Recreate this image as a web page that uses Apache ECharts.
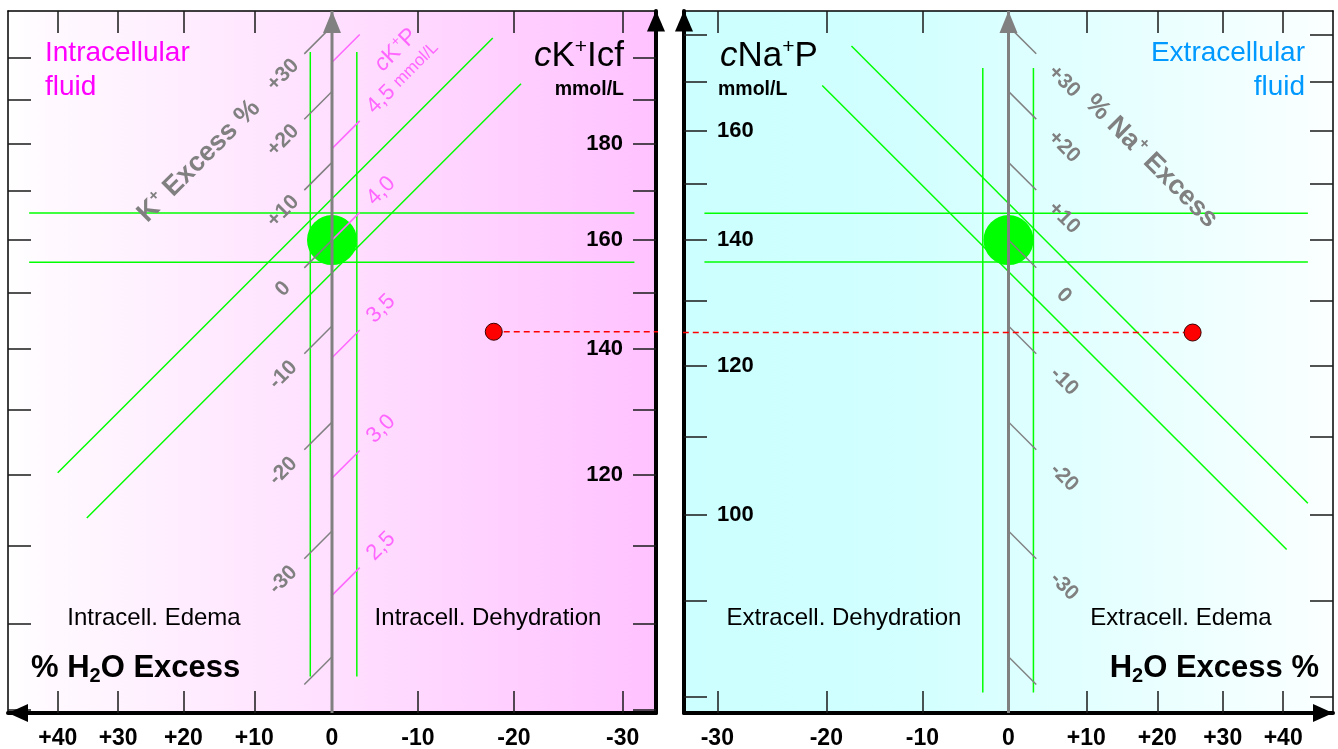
<!DOCTYPE html>
<html>
<head>
<meta charset="utf-8">
<title>cK+ Icf / cNa+ P nomogram</title>
<script src="https://cdn.jsdelivr.net/npm/echarts@6/dist/echarts.min.js"></script>
<style>
  html, body { margin: 0; padding: 0; background: #fff; }
  #chart { width: 1338px; height: 749px; }
</style>
</head>
<body>
<div id="chart"></div>
<script>
// H2O excess (%) ticks, both panels
const h2oTicks = [-30, -20, -10, 0, 10, 20, 30, 40]
// left panel: cK+ Icf (mmol/L)
const kIcfTicks = [90, 100, 110, 120, 130, 140, 150, 160, 170, 180, 190, 200]
const kIcfLabels = [120, 140, 160, 180]
const kIcfRange = [89.6, 211.9]
const kRef = 160
// right panel: cNa+ P (mmol/L)
const naTicks = [80, 90, 100, 110, 120, 130, 140, 150, 160, 170, 180]
const naLabels = [100, 120, 140, 160]
const naRange = [78.4, 185.4]
const naRef = 140
// H2O axis half range, as ln(1 + excess)
const xHalf = 0.3975

// K+ / Na+ excess (%) scale on the 0-line
const excessTicks = [30, 20, 10, 0, -10, -20, -30, -40]
const excessLabels = ['+30', '+20', '+10', '0', '-10', '-20', '-30', '']
// cK+P scale: cK+ Icf value each tick sits at, and its label
const ckpAt = [199, 179, 160, 138.5, 119.5, 103.5]
const ckpLabels = ['', '4,5', '4,0', '3,5', '3,0', '2,5']

// normal ranges (green) - left panel
const kBand = [155.7, 165.4]
const kBandSpan = [45, -31]
const h2oBandL = [2.7, -3.0]
const h2oBandLSpan = [93.7, 201.5]
const kDiagA = [[40, 120.3], [-17.9, 205.0]]
const kDiagB = [[35.1, 113.8], [-20.7, 193.8]]
// normal ranges (green) - right panel
const naBand = [136.3, 144.7]
const naBandSpan = [-31.1, 44.3]
const h2oBandR = [-3.1, 3.1]
const h2oBandRSpan = [80.4, 172.9]
const naDiagC = [[-17.5, 177.6], [44.3, 101.4]]
const naDiagD = [[-20.4, 169.2], [40.6, 95.8]]

// patient point: [H2O excess %, concentration]
const patientK = [-18, 143]
const patientNa = [25.3, 125]
const dashEndL = -35
const dashStartR = -32.9

const FONT = "'Liberation Sans', Arial, Helvetica, sans-serif"
const lx = w => Math.log(1 + w / 100)
const ly = c => Math.log(c)
const P = (w, c) => [lx(w), ly(c)]

function fmtPct (v) {
  const p = h2oTicks.find(t => Math.abs(lx(t) - v) < 1e-6)
  if (p === undefined) return ''
  return p > 0 ? '+' + p : String(p)
}
function fmtConc (list) {
  return function (v) {
    const c = list.find(t => Math.abs(ly(t) - v) < 1e-6)
    return c === undefined ? '' : String(c)
  }
}

const tickStyle = { color: '#1a1a1a', width: 1.5 }

function makeX (gridIndex, position, inverse, main) {
  return {
    type: 'value',
    gridIndex,
    position,
    inverse,
    min: -xHalf,
    max: xHalf,
    splitLine: { show: false },
    axisLine: {
      show: true,
      onZero: false,
      lineStyle: { color: '#000', width: main ? 4 : 1.5 },
      symbol: main ? (inverse ? ['triangle', 'none'] : ['none', 'triangle']) : 'none',
      symbolSize: [18, 20],
      symbolOffset: inverse ? [10, 0] : [0, -10]
    },
    axisTick: { show: true, inside: true, length: 22, lineStyle: tickStyle, customValues: h2oTicks.map(lx) },
    axisLabel: {
      show: main,
      customValues: h2oTicks.map(lx),
      formatter: fmtPct,
      color: '#000',
      fontFamily: FONT,
      fontSize: 23,
      fontWeight: 'bold',
      margin: 14
    }
  }
}

function makeY (gridIndex, position, range, ticks, labels, main) {
  return {
    type: 'value',
    gridIndex,
    position,
    min: ly(range[0]),
    max: ly(range[1]),
    splitLine: { show: false },
    axisLine: {
      show: true,
      onZero: false,
      lineStyle: { color: '#000', width: main ? 4 : 1.5 },
      symbol: main ? ['none', 'triangle'] : 'none',
      symbolSize: [18, 21],
      symbolOffset: [0, -10]
    },
    axisTick: { show: true, inside: true, length: 23, lineStyle: tickStyle, customValues: ticks.map(ly) },
    axisLabel: {
      show: main,
      inside: true,
      customValues: labels.map(ly),
      formatter: fmtConc(labels),
      color: '#000',
      fontFamily: FONT,
      fontSize: 22,
      fontWeight: 'bold',
      margin: 33
    }
  }
}

const AX_L = { xAxisIndex: 0, yAxisIndex: 0 }
const AX_R = { xAxisIndex: 2, yAxisIndex: 2 }
const green = { color: '#00ff00', width: 1.5 }
const gray = '#808080'
const pink = '#ff66ff'

function line (axes, data, style, extra) {
  return Object.assign({
    type: 'line', data, symbol: 'none', silent: true, animation: false, lineStyle: style, z: 2
  }, axes, extra || {})
}

function dot (axes, data, size, itemStyle, z) {
  return Object.assign({
    type: 'scatter', data, symbolSize: size, itemStyle: Object.assign({ opacity: 1 }, itemStyle),
    silent: true, animation: false, z
  }, axes)
}

function labelSeries (axes, items, label) {
  return Object.assign({
    type: 'scatter',
    data: items,
    symbolSize: 1,
    itemStyle: { color: 'transparent', opacity: 1 },
    silent: true,
    animation: false,
    z: 6,
    label: Object.assign({ show: true, position: 'inside', formatter: '{b}', fontFamily: FONT, opacity: 1 }, label)
  }, axes)
}

const series = []

// --- left panel: green normal ranges
kBand.forEach(c => series.push(line(AX_L, [P(kBandSpan[0], c), P(kBandSpan[1], c)], green)))
h2oBandL.forEach(w => series.push(line(AX_L, [P(w, h2oBandLSpan[0]), P(w, h2oBandLSpan[1])], green)))
;[kDiagA, kDiagB].forEach(d => series.push(line(AX_L, d.map(p => P(p[0], p[1])), green)))
// --- right panel: green normal ranges
naBand.forEach(c => series.push(line(AX_R, [P(naBandSpan[0], c), P(naBandSpan[1], c)], green)))
h2oBandR.forEach(w => series.push(line(AX_R, [P(w, h2oBandRSpan[0]), P(w, h2oBandRSpan[1])], green)))
;[naDiagC, naDiagD].forEach(d => series.push(line(AX_R, d.map(p => P(p[0], p[1])), green)))

// green normal point
series.push(dot(AX_L, [P(0, kRef)], 50, { color: '#00ff00' }, 3))
series.push(dot(AX_R, [P(0, naRef)], 50, { color: '#00ff00' }, 3))

// excess scales: short 45 deg ticks from the 0-line (ln space: du = +d, dv = -d)
const tickLen = 0.034
function excessScale (axes, ref, labOff, rotate) {
  excessTicks.forEach(k => {
    const v = ly(ref * (1 + k / 100))
    series.push(line(axes, [[0, v], [tickLen, v - tickLen]], { color: gray, width: 1.5 }, { z: 4 }))
  })
  const items = []
  excessTicks.forEach((k, i) => {
    if (!excessLabels[i]) return
    const v = ly(ref * (1 + k / 100))
    items.push({ name: excessLabels[i], value: [labOff, v - labOff] })
  })
  series.push(labelSeries(axes, items, { color: gray, fontSize: 21, fontWeight: 'bold', rotate }))
}
excessScale(AX_L, kRef, 0.060, 45)
excessScale(AX_R, naRef, 0.068, -45)

// cK+P scale (pink), ticks going up-right from the 0-line
ckpAt.forEach(c => {
  const v = ly(c)
  series.push(line(AX_L, [[0, v], [-tickLen, v + tickLen]], { color: pink, width: 1.5 }, { z: 4 }))
})
series.push(labelSeries(AX_L,
  ckpAt.map((c, i) => ({ name: ckpLabels[i], value: [-0.047, ly(c) + 0.047] })).filter(d => d.name),
  {
    color: pink,
    fontSize: 22,
    rotate: 45,
    align: 'left',
    verticalAlign: 'middle',
    formatter: p => p.name === '4,5' ? '4,5 {u|mmol/L}' : p.name,
    rich: { u: { fontSize: 17, color: pink, fontFamily: FONT } }
  }))

// gray 0-lines with arrow
;[AX_L, AX_R].forEach((axes, i) => {
  const r = i ? naRange : kIcfRange
  series.push(line(axes, [
    { value: [0, ly(r[0])], symbol: 'none' },
    { value: [0, ly(r[1])], symbol: 'triangle', symbolSize: [18, 22], symbolOffset: [0, 11] }
  ], { color: gray, width: 3 }, { z: 4, showSymbol: true, itemStyle: { color: gray, opacity: 1 } }))
})

// patient: dashed link + red points
series.push(line(AX_L, [P(patientK[0], patientK[1]), P(dashEndL, patientK[1])],
  { color: '#ff0000', width: 1.5, type: [6, 4] }, { z: 5, clip: false }))
series.push(line(AX_R, [P(dashStartR, patientNa[1]), P(patientNa[0], patientNa[1])],
  { color: '#ff0000', width: 1.5, type: [6, 4] }, { z: 5, clip: false }))
series.push(dot(AX_L, [P(patientK[0], patientK[1])], 17, { color: '#ff0000', borderColor: '#3a0000', borderWidth: 1 }, 7))
series.push(dot(AX_R, [P(patientNa[0], patientNa[1])], 17, { color: '#ff0000', borderColor: '#3a0000', borderWidth: 1 }, 7))

function txt (x, y, text, opts) {
  const style = Object.assign({
    text,
    fill: '#000',
    fontFamily: FONT,
    fontSize: 22,
    align: 'left',
    verticalAlign: 'middle'
  }, opts.style || {})
  style.textAlign = style.align
  style.textVerticalAlign = style.verticalAlign
  return { type: 'text', x, y, rotation: opts.rotation || 0, z: 10, silent: true, style }
}

const supRich = size => ({ fontSize: size, verticalAlign: 'top', lineHeight: size, fontFamily: FONT })

const graphic = [
  txt(45, 53, 'Intracellular', { style: { fill: '#ff00ff', fontSize: 28 } }),
  txt(45, 87, 'fluid', { style: { fill: '#ff00ff', fontSize: 28 } }),
  txt(1305, 53, 'Extracellular', { style: { fill: '#0099ff', fontSize: 28, align: 'right' } }),
  txt(1305, 87, 'fluid', { style: { fill: '#0099ff', fontSize: 28, align: 'right' } }),
  txt(624, 56, '{ci|c}{n|K}{sp|+}{n|Icf}', {
    style: {
      align: 'right',
      rich: {
        ci: { fontSize: 35, fontStyle: 'italic', lineHeight: 38, fontFamily: FONT },
        n: { fontSize: 35, lineHeight: 38, fontFamily: FONT },
        sp: supRich(21)
      }
    }
  }),
  txt(624, 90, 'mmol/L', { style: { align: 'right', fontSize: 19.5, fontWeight: 'bold' } }),
  txt(720, 56, '{ci|c}{n|Na}{sp|+}{n|P}', {
    style: {
      rich: {
        ci: { fontSize: 35, fontStyle: 'italic', lineHeight: 38, fontFamily: FONT },
        n: { fontSize: 35, lineHeight: 38, fontFamily: FONT },
        sp: supRich(21)
      }
    }
  }),
  txt(718, 90, 'mmol/L', { style: { fontSize: 19.5, fontWeight: 'bold' } }),
  txt(154, 618, 'Intracell. Edema', { style: { align: 'center', fontSize: 24 } }),
  txt(488, 618, 'Intracell. Dehydration', { style: { align: 'center', fontSize: 24 } }),
  txt(844, 618, 'Extracell. Dehydration', { style: { align: 'center', fontSize: 24 } }),
  txt(1181, 618, 'Extracell. Edema', { style: { align: 'center', fontSize: 24 } }),
  txt(31, 668, '{b|% H}{s|2}{b|O Excess}', {
    style: {
      rich: {
        b: { fontSize: 31, fontWeight: 'bold', lineHeight: 36, fontFamily: FONT },
        s: { fontSize: 20, fontWeight: 'bold', lineHeight: 20, verticalAlign: 'bottom', fontFamily: FONT }
      }
    }
  }),
  txt(1319, 668, '{b|H}{s|2}{b|O Excess %}', {
    style: {
      align: 'right',
      rich: {
        b: { fontSize: 31, fontWeight: 'bold', lineHeight: 36, fontFamily: FONT },
        s: { fontSize: 20, fontWeight: 'bold', lineHeight: 20, verticalAlign: 'bottom', fontFamily: FONT }
      }
    }
  }),
  txt(199, 161, '{b|K}{sp|+}{b| Excess %}', {
    rotation: Math.PI / 4,
    style: {
      align: 'center',
      rich: {
        b: { fontSize: 27, fontWeight: 'bold', lineHeight: 30, fill: gray, fontFamily: FONT },
        sp: { fontSize: 16, fontWeight: 'bold', lineHeight: 16, verticalAlign: 'top', fill: gray, fontFamily: FONT }
      }
    }
  }),
  txt(1089, 99, '{b|% Na}{sp|+}{b| Excess}', {
    rotation: -Math.PI / 4,
    style: {
      rich: {
        b: { fontSize: 27, fontWeight: 'bold', lineHeight: 30, fill: gray, fontFamily: FONT },
        sp: { fontSize: 16, fontWeight: 'bold', lineHeight: 16, verticalAlign: 'top', fill: gray, fontFamily: FONT }
      }
    }
  }),
  txt(396, 50, '{ci|c}{n|K}{sp|+}{n|P}', {
    rotation: Math.PI / 4,
    style: {
      align: 'center',
      rich: {
        ci: { fontSize: 23, fontStyle: 'italic', lineHeight: 26, fill: pink, fontFamily: FONT },
        n: { fontSize: 23, lineHeight: 26, fill: pink, fontFamily: FONT },
        sp: { fontSize: 14, lineHeight: 14, verticalAlign: 'top', fill: pink, fontFamily: FONT }
      }
    }
  })
]

const gradL = new echarts.graphic.LinearGradient(0, 0, 1, 0, [
  { offset: 0, color: '#ffffff' },
  { offset: 0.05, color: '#fffaff' },
  { offset: 1, color: '#ffc2ff' }
])
const gradR = new echarts.graphic.LinearGradient(0, 0, 1, 0, [
  { offset: 0, color: '#ccffff' },
  { offset: 0.35, color: '#d2ffff' },
  { offset: 1, color: '#fbffff' }
])

const chart = echarts.init(document.getElementById('chart'))
chart.setOption({
  animation: false,
  backgroundColor: '#fff',
  grid: [
    { left: 8, top: 11, width: 648, height: 702, show: true, borderWidth: 0, backgroundColor: gradL, containLabel: false, outerBoundsMode: 'none' },
    { left: 684, top: 11, width: 649, height: 702, show: true, borderWidth: 0, backgroundColor: gradR, containLabel: false, outerBoundsMode: 'none' }
  ],
  xAxis: [
    makeX(0, 'bottom', true, true),
    makeX(0, 'top', true, false),
    makeX(1, 'bottom', false, true),
    makeX(1, 'top', false, false)
  ],
  yAxis: [
    makeY(0, 'right', kIcfRange, kIcfTicks, kIcfLabels, true),
    makeY(0, 'left', kIcfRange, kIcfTicks, kIcfLabels, false),
    makeY(1, 'left', naRange, naTicks, naLabels, true),
    makeY(1, 'right', naRange, naTicks, naLabels, false)
  ],
  series,
  graphic
})
</script>
</body>
</html>
